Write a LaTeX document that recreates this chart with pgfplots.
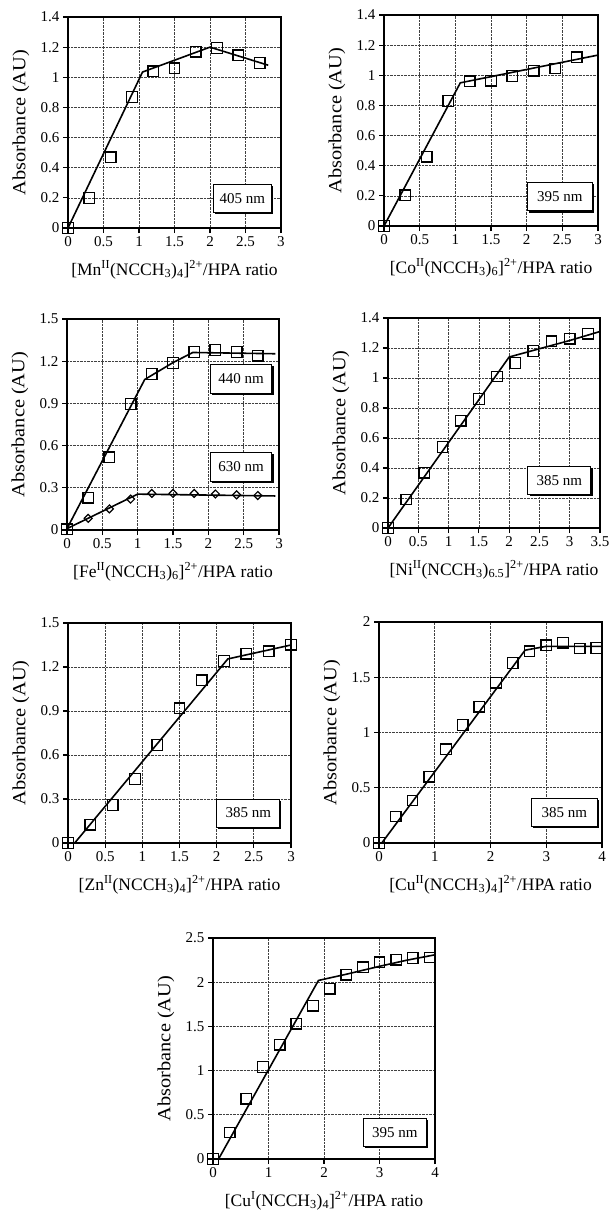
\documentclass[border=0pt]{standalone}
\usepackage{fontspec}
\setmainfont{Liberation Serif}
\usepackage{graphicx}
\usepackage{pgfplots}
\pgfplotsset{compat=1.18}
\usetikzlibrary{calc}
\newcommand{\fsTick}{\fontsize{15}{15}\selectfont}
\newcommand{\fsLab}{\fontsize{17.5}{18}\selectfont}
\newcommand{\fsY}{\fontsize{18.5}{19}\selectfont}
\newcommand{\ylab}{\scalebox{1.1}[1]{Absorbance (AU)}}
\newcommand{\nmbox}[5]{%
  \fill[black] ($(axis cs:#1,#2)+(1.6pt,-1.6pt)$) rectangle ($(axis cs:#3,#4)+(1.6pt,-1.6pt)$);
  \draw[fill=white,line width=0.9pt] (axis cs:#1,#2) rectangle (axis cs:#3,#4);
  \node[font=\fsTick,inner sep=0pt] at ($(axis cs:#1,#2)!0.5!(axis cs:#3,#4)$) {#5};}
\pgfplotsset{
  panel/.style={
    scale only axis, clip=false,
    axis line style={line width=1.4pt},
    grid=major, grid style={densely dotted, line width=0.7pt, black!75},
    tick align=outside, tick pos=left, major tick length=5pt,
    tick style={line width=1.1pt, black},
    ticklabel style={font=\fsTick},
    /pgf/number format/assume math mode=true,
    every axis x label/.style={at={(axis description cs:0.5,0)}, anchor=base, yshift=-47pt, font=\fsLab},
    every axis y label/.style={at={(axis description cs:0,0.5)}, xshift=-47pt, rotate=90, anchor=center, font=\fsY},
    ylabel={\ylab},
  },
  ln/.style={no marks, line width=1.6pt, black},
  sq/.style={only marks, mark=square, mark size=5.3pt, mark options={line width=1.3pt, black}},
  dm/.style={only marks, mark=square, mark size=2.8pt, mark options={rotate=45, line width=1.2pt, black}},
}
\begin{document}
\begin{tikzpicture}
\useasboundingbox (0pt,0pt) rectangle (610pt,-1210pt);
% ---------- Mn
\begin{axis}[panel, at={(68pt,-228pt)}, anchor=south west, width=213pt, height=211pt,
  xmin=0, xmax=3, ymin=0, ymax=1.4, xtick={0,0.5,1,1.5,2,2.5,3}, ytick={0,0.2,0.4,0.6,0.8,1,1.2,1.4},
  xlabel={[Mn\textsuperscript{II}(NCCH\textsubscript{3})\textsubscript{4}]\textsuperscript{2+}/HPA ratio}]
\addplot[ln] coordinates {(0,0) (1.05,1.035) (2.0,1.2) (2.82,1.08)};
\addplot[sq] coordinates {(0,0) (0.3,0.2) (0.6,0.47) (0.9,0.87) (1.2,1.04) (1.5,1.06) (1.8,1.17) (2.1,1.195) (2.4,1.146) (2.7,1.095)};
\nmbox{2.05}{0.29}{2.86}{0.105}{405 nm}
\end{axis}
% ---------- Co
\begin{axis}[panel, at={(384pt,-226pt)}, anchor=south west, width=214pt, height=211pt,
  xmin=0, xmax=3, ymin=0, ymax=1.4, xtick={0,0.5,1,1.5,2,2.5,3}, ytick={0,0.2,0.4,0.6,0.8,1,1.2,1.4},
  xlabel={[Co\textsuperscript{II}(NCCH\textsubscript{3})\textsubscript{6}]\textsuperscript{2+}/HPA ratio}]
\addplot[ln] coordinates {(0,0) (1.07,0.95) (3.0,1.134)};
\addplot[sq] coordinates {(0,0) (0.3,0.204) (0.6,0.459) (0.9,0.83) (1.2,0.96) (1.5,0.965) (1.8,0.995) (2.1,1.03) (2.4,1.045) (2.7,1.12)};
\nmbox{2.01}{0.286}{2.92}{0.10}{395 nm}
\end{axis}
% ---------- Fe
\begin{axis}[panel, at={(67pt,-530pt)}, anchor=south west, width=212pt, height=211pt,
  xmin=0, xmax=3, ymin=0, ymax=1.5, xtick={0,0.5,1,1.5,2,2.5,3}, ytick={0,0.3,0.6,0.9,1.2,1.5},
  xlabel={[Fe\textsuperscript{II}(NCCH\textsubscript{3})\textsubscript{6}]\textsuperscript{2+}/HPA ratio}]
\addplot[ln] coordinates {(0,0.01) (1.1,1.07) (1.5,1.19) (1.78,1.262) (2.95,1.253)};
\addplot[ln] coordinates {(0,0.01) (1.0,0.255) (2.95,0.242)};
\addplot[dm] coordinates {(0.3,0.083) (0.6,0.15) (0.9,0.22) (1.2,0.26) (1.5,0.26) (1.8,0.26) (2.1,0.256) (2.4,0.25) (2.7,0.245)};
\addplot[sq] coordinates {(0,0.005) (0.3,0.23) (0.6,0.517) (0.9,0.895) (1.2,1.11) (1.5,1.187) (1.8,1.265) (2.1,1.28) (2.4,1.265) (2.7,1.24)};
\nmbox{2.03}{1.175}{2.9}{0.973}{440 nm}
\nmbox{2.03}{0.551}{2.9}{0.344}{630 nm}
\end{axis}
% ---------- Ni
\begin{axis}[panel, at={(388pt,-528pt)}, anchor=south west, width=212pt, height=210pt,
  xmin=0, xmax=3.5, ymin=0, ymax=1.4, xtick={0,0.5,1,1.5,2,2.5,3,3.5}, ytick={0,0.2,0.4,0.6,0.8,1,1.2,1.4},
  xlabel={[Ni\textsuperscript{II}(NCCH\textsubscript{3})\textsubscript{6.5}]\textsuperscript{2+}/HPA ratio}]
\addplot[ln] coordinates {(0,0) (2.0,1.14) (2.5,1.195) (3.0,1.25) (3.5,1.31)};
\addplot[sq] coordinates {(0,0) (0.3,0.19) (0.6,0.368) (0.9,0.54) (1.2,0.716) (1.5,0.86) (1.8,1.01) (2.1,1.10) (2.4,1.18) (2.7,1.244) (3.0,1.262) (3.3,1.295)};
\nmbox{2.31}{0.408}{3.35}{0.223}{385 nm}
\end{axis}
% ---------- Zn
\begin{axis}[panel, at={(68pt,-843pt)}, anchor=south west, width=223pt, height=220pt,
  xmin=0, xmax=3, ymin=0, ymax=1.5, xtick={0,0.5,1,1.5,2,2.5,3}, ytick={0,0.3,0.6,0.9,1.2,1.5},
  xlabel={[Zn\textsuperscript{II}(NCCH\textsubscript{3})\textsubscript{4}]\textsuperscript{2+}/HPA ratio}]
\addplot[ln] coordinates {(0.09,0) (2.15,1.255) (2.4,1.283) (3.0,1.35)};
\addplot[sq] coordinates {(0,0) (0.3,0.125) (0.6,0.26) (0.9,0.437) (1.2,0.668) (1.5,0.918) (1.8,1.11) (2.1,1.242) (2.4,1.29) (2.7,1.307) (3.0,1.353)};
\nmbox{2.0}{0.30}{2.85}{0.109}{385 nm}
\end{axis}
% ---------- Cu(II)
\begin{axis}[panel, at={(379pt,-843pt)}, anchor=south west, width=223pt, height=221pt,
  xmin=0, xmax=4, ymin=0, ymax=2, xtick={0,1,2,3,4}, ytick={0,0.5,1,1.5,2},
  xlabel={[Cu\textsuperscript{II}(NCCH\textsubscript{3})\textsubscript{4}]\textsuperscript{2+}/HPA ratio}]
\addplot[ln] coordinates {(0.05,0) (2.62,1.745) (3.0,1.78) (4.0,1.78)};
\addplot[sq] coordinates {(0,0) (0.3,0.24) (0.6,0.385) (0.9,0.6) (1.2,0.848) (1.5,1.068) (1.8,1.233) (2.1,1.45) (2.4,1.63) (2.7,1.735) (3.0,1.79) (3.3,1.813) (3.6,1.76) (3.9,1.765)};
\nmbox{2.74}{0.406}{3.91}{0.15}{385 nm}
\end{axis}
% ---------- Cu(I)
\begin{axis}[panel, at={(213pt,-1159pt)}, anchor=south west, width=222pt, height=221pt,
  xmin=0, xmax=4, ymin=0, ymax=2.5, xtick={0,1,2,3,4}, ytick={0,0.5,1,1.5,2,2.5},
  xlabel={[Cu\textsuperscript{I}(NCCH\textsubscript{3})\textsubscript{4}]\textsuperscript{2+}/HPA ratio}]
\addplot[ln] coordinates {(0.1,0) (1.9,2.02) (2.4,2.09) (3.0,2.18) (3.5,2.25) (4.0,2.31)};
\addplot[sq] coordinates {(0,0) (0.3,0.30) (0.6,0.683) (0.9,1.04) (1.2,1.293) (1.5,1.53) (1.8,1.735) (2.1,1.927) (2.4,2.085) (2.7,2.17) (3.0,2.225) (3.3,2.255) (3.6,2.275) (3.9,2.28)};
\nmbox{2.71}{0.464}{3.84}{0.143}{395 nm}
\end{axis}
\end{tikzpicture}
\end{document}
